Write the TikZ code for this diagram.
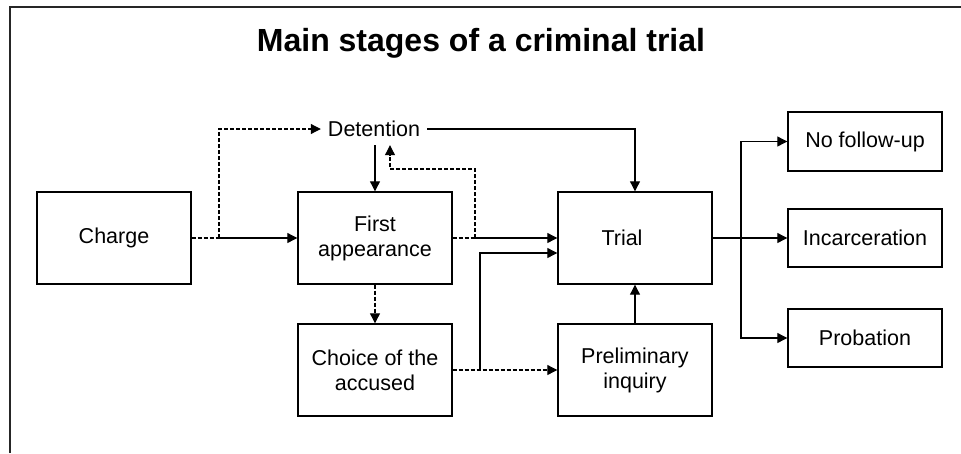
\documentclass[tikz,border=0pt]{standalone}
\usepackage{fontspec}
\setmainfont{Liberation Sans}
\usetikzlibrary{arrows.meta}
\begin{document}
\begin{tikzpicture}[x=1pt,y=-1pt,
  box/.style={draw=black, line width=1.4pt, minimum width=154pt, minimum height=92pt, align=center, inner sep=0pt,
    font=\fontsize{21.5}{25}\selectfont},
  smallbox/.style={box, minimum height=58pt},
  conn/.style={line width=1.1pt, draw=black},
  arr/.style={conn, -{Triangle[length=10pt,width=10pt]}},
  dsh/.style={dash pattern=on 4pt off 2pt}
]
\useasboundingbox (0,0) rectangle (961,453);
% frame
\draw[line width=1.4pt, black!85] (10,453) -- (10,7) -- (961,7);
% title
\node[font=\fontsize{32}{36}\selectfont\bfseries] (title) at (481,43) {Main stages of a criminal trial};
% boxes
\node[box] (charge) at (114,238) {Charge};
\node[box] (first) at (375,238) {First\\appearance};
\node[box] (choice) at (375,370) {Choice of the\\accused};
\node[box] (trial) at (635,238) {\hspace*{-26pt}Trial};
\node[box] (prelim) at (635,370) {Preliminary\\inquiry};
\node[smallbox, minimum height=59pt] (nofollow) at (865,141.5) {No follow-up};
\node[smallbox] (incarc) at (865,238) {Incarceration};
\node[smallbox] (prob) at (865,338) {Probation};
\node[font=\fontsize{21.5}{25}\selectfont, inner xsep=7pt, inner ysep=0pt, minimum height=32pt] (det) at (374,129) {Detention};
% junction points
\coordinate (c1) at (219,238);
\coordinate (c2) at (475,238);
\coordinate (c3) at (390,169);
\coordinate (c4) at (480,370);
\coordinate (c5) at (741,238);
% connectors
\draw[conn,dsh] (charge.east) -- (c1);
\draw[arr] (c1) -- (first.west);
\draw[arr,dsh] (c1) |- (det.west);
\draw[arr] (det.south -| first.north) -- (first.north);
\draw[conn,dsh] (first.east) -- (c2);
\draw[arr] (c2) -- (trial.west);
\draw[arr,dsh] (c2) |- (c3) -- (c3 |- det.south);
\draw[arr] (det.east) -| (trial.north);
\draw[arr,dsh] (first.south) -- (choice.north);
\draw[arr,dsh] (choice.east) -- (prelim.west);
\draw[arr] (c4) |- ([yshift=-15pt]trial.west);
\draw[arr] (prelim.north) -- (trial.south);
\draw[conn] (trial.east) -- (c5);
\draw[arr] (c5) |- (nofollow.west);
\draw[arr] (c5) -- (incarc.west);
\draw[arr] (c5) |- (prob.west);
\end{tikzpicture}
\end{document}
